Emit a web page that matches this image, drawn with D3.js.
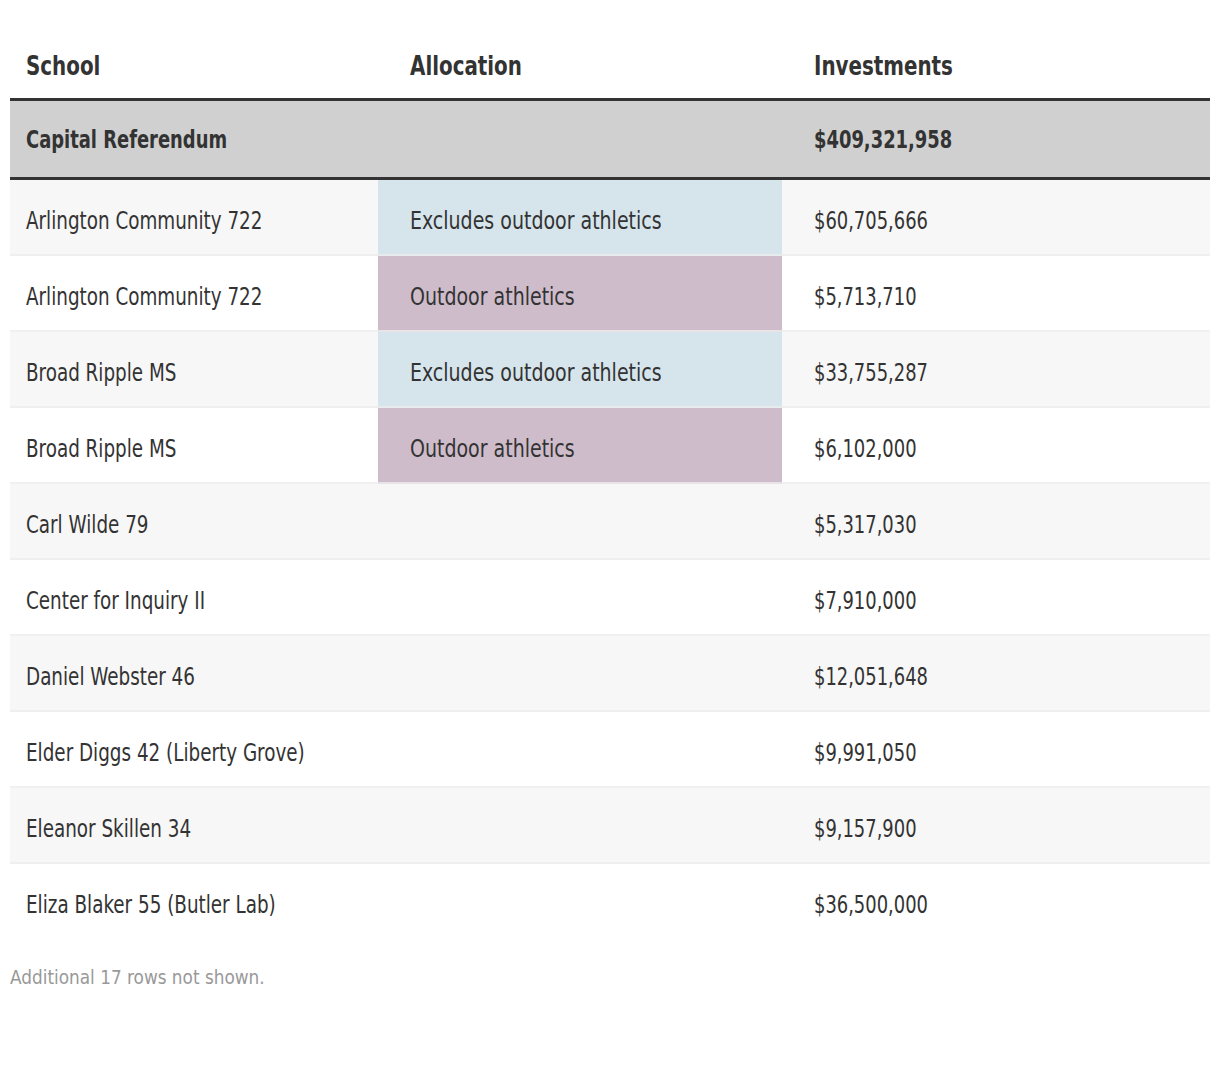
<!DOCTYPE html>
<html>
<head>
<meta charset="utf-8">
<script src="https://cdn.jsdelivr.net/npm/d3@7"></script>
<style>
  body { margin: 0; background: #fff; }
  svg text { font-family: "DejaVu Sans Condensed", "Liberation Sans Narrow", sans-serif; }
</style>
</head>
<body>
<div id="chart"></div>
<script>
// table contents
var columns = ["School", "Allocation", "Investments"];
var totalLabel = "Capital Referendum";
var totalValue = "$409,321,958";
var schools = ["Arlington Community 722", "Arlington Community 722", "Broad Ripple MS", "Broad Ripple MS",
  "Carl Wilde 79", "Center for Inquiry II", "Daniel Webster 46", "Elder Diggs 42 (Liberty Grove)",
  "Eleanor Skillen 34", "Eliza Blaker 55 (Butler Lab)"];
var allocations = ["Excludes outdoor athletics", "Outdoor athletics", "Excludes outdoor athletics", "Outdoor athletics",
  "", "", "", "", "", ""];
var investments = [60705666, 5713710, 33755287, 6102000, 5317030, 7910000, 12051648, 9991050, 9157900, 36500000];
var footnote = "Additional 17 rows not shown.";

var width = 1220, height = 1068;
var left = 10, right = 1210;
var colEdges = [10, 378, 782, 1210];
var textX = [26, 410, 814];
var squeeze = 0.85; // the font we have is wider than the original one

var svg = d3.select("#chart").append("svg")
  .attr("width", width)
  .attr("height", height);

var fmt = d3.format("$,");

var allocColor = d3.scaleOrdinal()
  .domain(["Excludes outdoor athletics", "Outdoor athletics"])
  .range(["#d6e5ec", "#cfbccb"]);

// rows
var y = d3.scaleBand()
  .domain(d3.range(schools.length))
  .range([180, 180 + 76 * schools.length]);

function label(sel, x, yy, size, bold, color, sx) {
  return sel.append("text")
    .attr("transform", "translate(" + x + "," + yy + ") scale(" + (sx || squeeze) + ",1)")
    .attr("dy", "0.35em")
    .style("font-size", size + "px")
    .style("font-weight", bold ? "bold" : "normal")
    .attr("fill", color);
}

// header
columns.forEach(function(c, i) {
  label(svg, textX[i], 66, 26, true, "#333").text(c);
});

// total row
svg.append("rect")
  .attr("x", left).attr("y", 100)
  .attr("width", right - left).attr("height", 78)
  .attr("fill", "#d0d0d0");
svg.append("rect").attr("x", left).attr("y", 98).attr("width", right - left).attr("height", 3).attr("fill", "#333");
svg.append("rect").attr("x", left).attr("y", 177).attr("width", right - left).attr("height", 3).attr("fill", "#333");
label(svg, textX[0], 140, 24, true, "#333", 0.83).text(totalLabel);
label(svg, textX[2], 140, 24, true, "#333", 0.83).text(totalValue);

var rows = svg.selectAll(".row")
  .data(schools)
  .enter().append("g")
  .attr("class", "row")
  .attr("transform", function(d, i) { return "translate(0," + y(i) + ")"; });

rows.append("rect")
  .attr("x", left).attr("width", right - left)
  .attr("height", y.bandwidth())
  .attr("fill", function(d, i) { return i % 2 == 0 ? "#f7f7f7" : "#fff"; });

rows.append("rect")
  .attr("x", colEdges[1])
  .attr("width", colEdges[2] - colEdges[1])
  .attr("height", y.bandwidth())
  .attr("fill", function(d, i) { return allocations[i] ? allocColor(allocations[i]) : "none"; });

rows.append("rect")
  .attr("x", left).attr("y", y.bandwidth() - 2)
  .attr("width", right - left).attr("height", 2)
  .attr("fill", "#ececec")
  .attr("fill-opacity", 0.8)
  .attr("display", function(d, i) { return i == schools.length - 1 ? "none" : null; });

rows.each(function(d, i) {
  var g = d3.select(this);
  label(g, textX[0], 41, 24, false, "#333").text(d);
  label(g, textX[1], 41, 24, false, "#333", 0.88).text(allocations[i]);
  label(g, textX[2], 41, 24, false, "#333", 0.83).text(fmt(investments[i]));
});

label(svg, left, 977, 20, false, "#999", 0.94).text(footnote);
</script>
</body>
</html>
